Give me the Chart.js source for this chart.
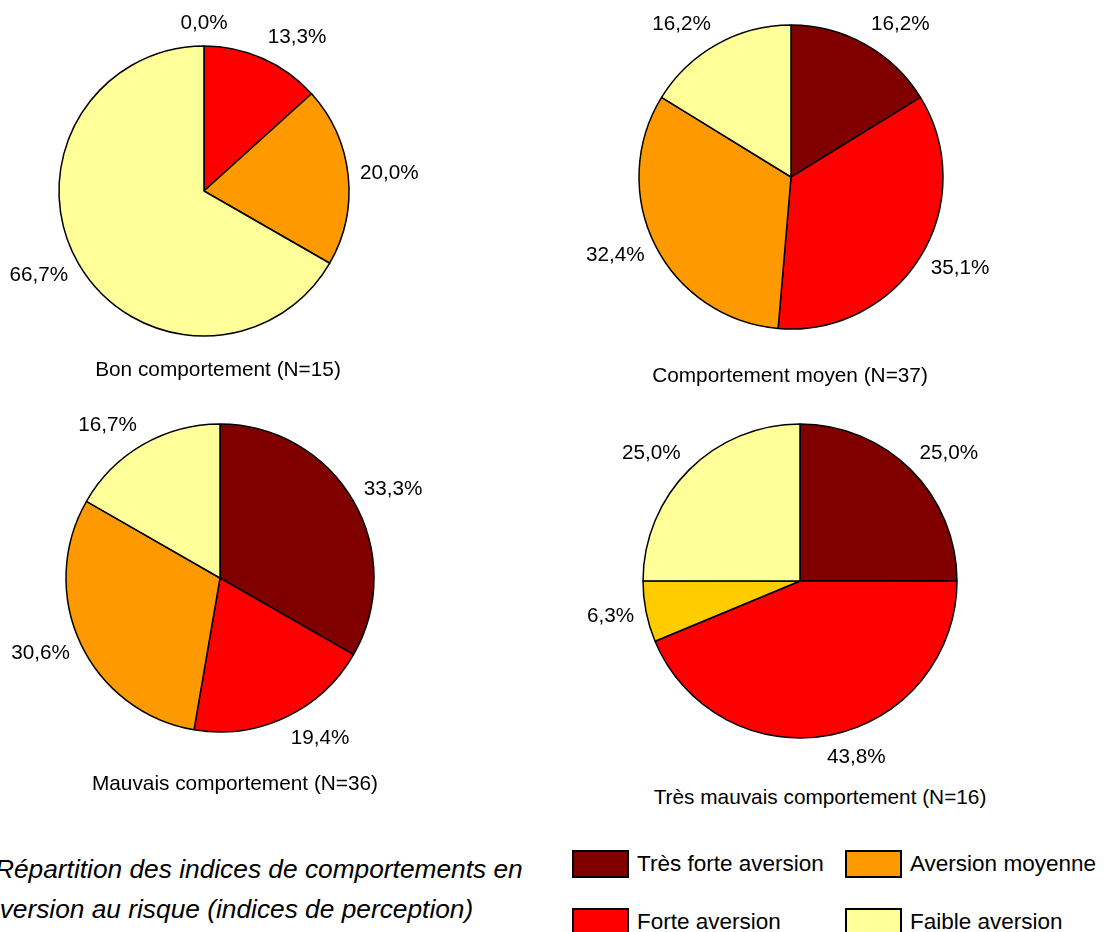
<!DOCTYPE html>
<html>
<head>
<meta charset="utf-8">
<script src="https://cdn.jsdelivr.net/npm/chart.js@4/dist/chart.umd.min.js"></script>
<style>
    body { margin: 0; width: 1117px; height: 932px; overflow: hidden; background: #fff; position: relative;
           font-family: "Liberation Sans", Arial, sans-serif; color: #000; }
    canvas.pie { position: absolute; }
    .caption { position: absolute; font-size: 20.8px; white-space: nowrap; transform: translate(-50%, -50%); }
    .note { position: absolute; font-size: 26.3px; font-style: italic; white-space: nowrap; transform: translateY(-50%); }
    .legend-item { position: absolute; font-size: 22.5px; white-space: nowrap; display: flex; align-items: center; }
    .legend-item span.box { display: inline-block; width: 53px; height: 24px; border: 2px solid #000; margin-right: 8px; }
</style>
</head>
<body>

<canvas id="pie1" class="pie" width="440" height="400"></canvas>
<canvas id="pie2" class="pie" width="440" height="400"></canvas>
<canvas id="pie3" class="pie" width="440" height="400"></canvas>
<canvas id="pie4" class="pie" width="440" height="400"></canvas>

<div class="caption" style="left:218px; top:369px;">Bon comportement (N=15)</div>
<div class="caption" style="left:790px; top:375px;">Comportement moyen (N=37)</div>
<div class="caption" style="left:235px; top:783px;">Mauvais comportement (N=36)</div>
<div class="caption" style="left:820px; top:797px;">Très mauvais comportement (N=16)</div>

<div class="note" style="left:-5px; top:869px;">Répartition des indices de comportements en</div>
<div class="note" style="left:-15px; top:909px;">aversion au risque (indices de perception)</div>

<div id="legend"></div>

<script>
// Categories (legend order)
const categories = ['Très forte aversion', 'Forte aversion', 'Aversion moyenne', 'Faible aversion'];
const categoryColors = ['#800000', '#FF0000', '#FF9900', '#FFFF99'];

// Percentages per behaviour group, clockwise from the top
const bonValues = [0.0, 13.3, 20.0, 66.7];
const moyenValues = [16.2, 35.1, 32.4, 16.2];
const mauvaisValues = [33.3, 19.4, 30.6, 16.7];
const tresMauvaisValues = [25.0, 43.8, 6.3, 25.0];

// the "moyenne" slice of the last pie is drawn in a golden tone in the source
const tresMauvaisColors = ['#800000', '#FF0000', '#FFCC00', '#FFFF99'];

// Outside labels, Excel style: text box corner sits just beyond the rim
const outsideLabels = {
    id: 'outsideLabels',
    afterDatasetsDraw(chart) {
        const ctx = chart.ctx;
        const meta = chart.getDatasetMeta(0);
        const values = chart.data.datasets[0].data;
        ctx.save();
        ctx.font = '20.7px "Liberation Sans", Arial, sans-serif';
        ctx.fillStyle = '#000';
        ctx.textAlign = 'center';
        ctx.textBaseline = 'middle';
        meta.data.forEach((arc, i) => {
            const p = arc.getProps(['x', 'y', 'startAngle', 'endAngle', 'outerRadius'], true);
            const mid = (p.startAngle + p.endAngle) / 2;
            const text = values[i].toFixed(1).replace('.', ',') + '%';
            const w = ctx.measureText(text).width;
            const dist = p.outerRadius + 12;
            const side = Math.max(-1, Math.min(1, Math.cos(mid) * 4));
            const x = p.x + Math.cos(mid) * dist + side * w / 2;
            const y = p.y + Math.sin(mid) * (dist + 11);
            ctx.fillText(text, x, y);
        });
        ctx.restore();
    }
};

function drawPie(canvasId, values, colors, cx, cy, radius) {
    const canvas = document.getElementById(canvasId);
    canvas.style.left = (cx - canvas.width / 2) + 'px';
    canvas.style.top = (cy - canvas.height / 2) + 'px';

    new Chart(canvas.getContext('2d'), {
        type: 'pie',
        data: {
            labels: categories,
            datasets: [{
                data: values,
                backgroundColor: colors,
                borderColor: '#000',
                borderWidth: 1.5
            }]
        },
        options: {
            responsive: false,
            animation: false,
            events: [],
            radius: radius,
            layout: { padding: 0 },
            plugins: {
                legend: { display: false },
                tooltip: { enabled: false }
            }
        },
        plugins: [outsideLabels]
    });
}

drawPie('pie1', bonValues, categoryColors, 204, 191, 145);
drawPie('pie2', moyenValues, categoryColors, 791, 177, 152);
drawPie('pie3', mauvaisValues, categoryColors, 220, 578, 154);
drawPie('pie4', tresMauvaisValues, tresMauvaisColors, 800, 581, 157);

// Legend, two columns
const legendSpots = [[572, 850], [572, 908], [845, 850], [845, 908]];
const legend = document.getElementById('legend');
categories.forEach((name, i) => {
    const item = document.createElement('div');
    item.className = 'legend-item';
    item.style.left = legendSpots[i][0] + 'px';
    item.style.top = legendSpots[i][1] + 'px';
    item.innerHTML = `<span class="box" style="background:${categoryColors[i]}"></span>${name}`;
    legend.appendChild(item);
});
</script>
</body>
</html>
